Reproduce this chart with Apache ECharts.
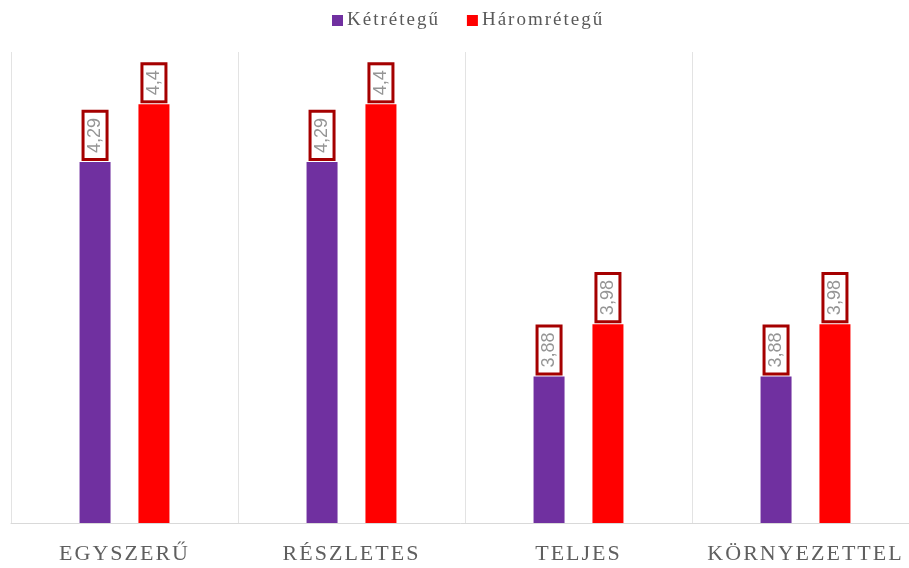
<!DOCTYPE html>
<html><head><meta charset="utf-8">
<script src="https://cdn.jsdelivr.net/npm/echarts@6/dist/echarts.min.js"></script>
<style>
html,body{margin:0;padding:0;background:#fff}
#c{width:909px;height:568px}
</style>
</head><body><div id="c"></div>
<script>
(function () {
  const proto = CanvasRenderingContext2D.prototype;
  const desc = Object.getOwnPropertyDescriptor(proto, 'font');
  if (desc && 'letterSpacing' in proto) {
    Object.defineProperty(proto, 'font', {
      configurable: true,
      get: function () { return desc.get.call(this); },
      set: function (v) {
        desc.set.call(this, v);
        this.letterSpacing = /Liberation Serif/.test(v) ? '2px' : '0px';
      }
    });
  }
})();

const categories = ['EGYSZERŰ', 'RÉSZLETES', 'TELJES', 'KÖRNYEZETTEL'];
const seriesNames = ['Kétrétegű', 'Háromrétegű'];
const ketreteguValues = [4.29, 4.29, 3.88, 3.88];
const haromreteguValues = [4.4, 4.4, 3.98, 3.98];
const colors = ['#7030a0', '#ff0000'];

const serif = "Liberation Serif, Times New Roman, serif";
const labelCfg = {
  show: true, position: 'top', rotate: 90, distance: 4,
  align: 'left', verticalAlign: 'middle',
  formatter: p => String(p.value).replace('.', ','),
  fontFamily: "Liberation Sans, Arial, sans-serif", fontSize: 18, color: '#959595',
  backgroundColor: '#fff', borderColor: '#a50000', borderWidth: 3,
  padding: [2, 5, 1, 5]
};
const chart = echarts.init(document.getElementById('c'));
chart.setOption({
  animation: false,
  legend: {
    top: 10, left: 332, padding: 0, itemWidth: 11, itemHeight: 11, itemGap: 27,
    icon: 'rect',
    textStyle: { fontFamily: serif, fontSize: 19, color: '#595959', padding: [0, 0, 0, -1] },
    data: seriesNames
  },
  grid: { left: 11, top: 52, right: -10, bottom: 45, outerBoundsMode: 'none', containLabel: false },
  xAxis: {
    type: 'category', data: categories,
    axisLine: { lineStyle: { color: '#d9d9d9', width: 1 } },
    axisTick: { show: false },
    splitLine: { show: true, interval: 0, lineStyle: { color: '#e3e3e3' } },
    axisLabel: { interval: 0, hideOverlap: false, margin: 19, fontFamily: serif, fontSize: 22, color: '#5f5f5f' }
  },
  yAxis: { type: 'value', min: 3.6, max: 4.5, show: false, splitLine: { show: false } },
  series: [
    { name: seriesNames[0], type: 'bar', data: ketreteguValues, barWidth: 31, barGap: '90%', itemStyle: { color: colors[0] }, label: labelCfg },
    { name: seriesNames[1], type: 'bar', data: haromreteguValues, barWidth: 31, itemStyle: { color: colors[1] }, label: labelCfg }
  ]
});
</script></body></html>
